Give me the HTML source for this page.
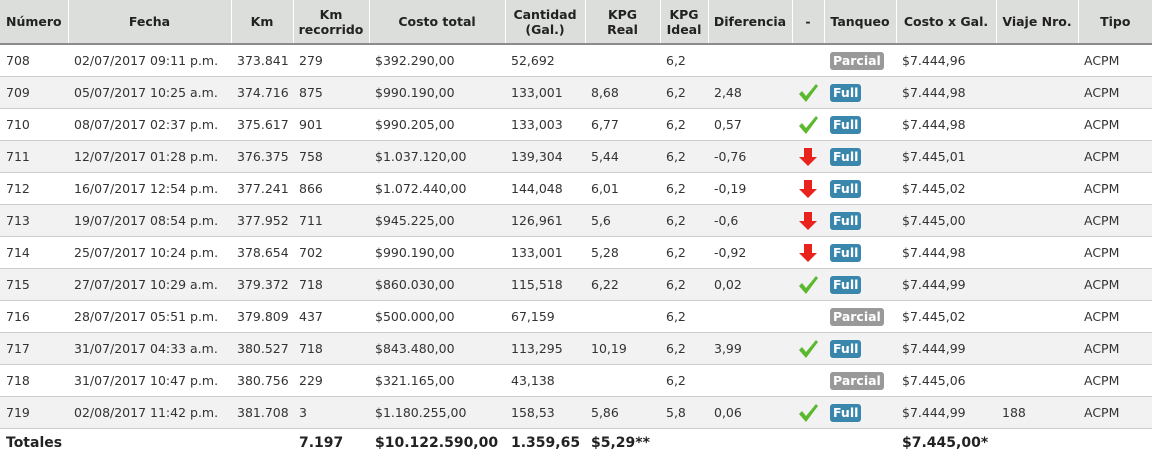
<!DOCTYPE html>
<html><head><meta charset="utf-8"><style>
body{margin:0;width:1152px;height:457px;overflow:hidden;background:#fff;font-family:"DejaVu Sans",Verdana,sans-serif;font-size:12.5px;color:#333}
table{border-collapse:collapse;table-layout:fixed;width:1152px}
th{background:#dcdedb;font-weight:bold;height:43px;padding:0 4px;border-left:1px solid #fff;border-bottom:2px solid #8c8c8c;text-align:center;line-height:15px;color:#222}
th:first-child{border-left:none;text-align:left;padding-left:6px}
td{height:31px;padding:0 0 0 6px;border-bottom:1px solid #ccc;white-space:nowrap;overflow:hidden}
tr.a td{background:#f2f2f2}
tr.t td{border-bottom:none;font-weight:bold;font-size:14px;height:28px;color:#222}
.b{display:inline-block;color:#fff;font-weight:bold;font-size:12.5px;padding:1px 3px;border-radius:3px;line-height:16px}
.p{background:#999}.f{background:#3a87ad}
.ar{display:inline-block;width:20px;height:20px;vertical-align:middle}
</style></head><body>
<table>
<colgroup><col style="width:68px"><col style="width:163px"><col style="width:62px"><col style="width:76px"><col style="width:136px"><col style="width:80px"><col style="width:75px"><col style="width:48px"><col style="width:84px"><col style="width:32px"><col style="width:72px"><col style="width:100px"><col style="width:82px"><col style="width:74px"></colgroup>
<tr><th>Número</th><th>Fecha</th><th>Km</th><th>Km<br>recorrido</th><th>Costo total</th><th>Cantidad<br>(Gal.)</th><th>KPG<br>Real</th><th>KPG<br>Ideal</th><th>Diferencia</th><th>-</th><th>Tanqueo</th><th>Costo x Gal.</th><th>Viaje Nro.</th><th>Tipo</th></tr>
<tr><td>708</td><td>02/07/2017 09:11 p.m.</td><td>373.841</td><td>279</td><td>$392.290,00</td><td>52,692</td><td></td><td>6,2</td><td></td><td></td><td><span class="b p">Parcial</span></td><td>$7.444,96</td><td></td><td>ACPM</td></tr>
<tr class="a"><td>709</td><td>05/07/2017 10:25 a.m.</td><td>374.716</td><td>875</td><td>$990.190,00</td><td>133,001</td><td>8,68</td><td>6,2</td><td>2,48</td><td><svg class="ar" viewBox="0 0 20 20"><path d="M1 11l3-3 4 5L18 1l2 2L8 19z" fill="#5cb82e"/></svg></td><td><span class="b f">Full</span></td><td>$7.444,98</td><td></td><td>ACPM</td></tr>
<tr><td>710</td><td>08/07/2017 02:37 p.m.</td><td>375.617</td><td>901</td><td>$990.205,00</td><td>133,003</td><td>6,77</td><td>6,2</td><td>0,57</td><td><svg class="ar" viewBox="0 0 20 20"><path d="M1 11l3-3 4 5L18 1l2 2L8 19z" fill="#5cb82e"/></svg></td><td><span class="b f">Full</span></td><td>$7.444,98</td><td></td><td>ACPM</td></tr>
<tr class="a"><td>711</td><td>12/07/2017 01:28 p.m.</td><td>376.375</td><td>758</td><td>$1.037.120,00</td><td>139,304</td><td>5,44</td><td>6,2</td><td>-0,76</td><td><svg class="ar" viewBox="0 0 20 20"><path d="M6 1h8v9h5l-9 9-9-9h5z" fill="#e8231c"/></svg></td><td><span class="b f">Full</span></td><td>$7.445,01</td><td></td><td>ACPM</td></tr>
<tr><td>712</td><td>16/07/2017 12:54 p.m.</td><td>377.241</td><td>866</td><td>$1.072.440,00</td><td>144,048</td><td>6,01</td><td>6,2</td><td>-0,19</td><td><svg class="ar" viewBox="0 0 20 20"><path d="M6 1h8v9h5l-9 9-9-9h5z" fill="#e8231c"/></svg></td><td><span class="b f">Full</span></td><td>$7.445,02</td><td></td><td>ACPM</td></tr>
<tr class="a"><td>713</td><td>19/07/2017 08:54 p.m.</td><td>377.952</td><td>711</td><td>$945.225,00</td><td>126,961</td><td>5,6</td><td>6,2</td><td>-0,6</td><td><svg class="ar" viewBox="0 0 20 20"><path d="M6 1h8v9h5l-9 9-9-9h5z" fill="#e8231c"/></svg></td><td><span class="b f">Full</span></td><td>$7.445,00</td><td></td><td>ACPM</td></tr>
<tr><td>714</td><td>25/07/2017 10:24 p.m.</td><td>378.654</td><td>702</td><td>$990.190,00</td><td>133,001</td><td>5,28</td><td>6,2</td><td>-0,92</td><td><svg class="ar" viewBox="0 0 20 20"><path d="M6 1h8v9h5l-9 9-9-9h5z" fill="#e8231c"/></svg></td><td><span class="b f">Full</span></td><td>$7.444,98</td><td></td><td>ACPM</td></tr>
<tr class="a"><td>715</td><td>27/07/2017 10:29 a.m.</td><td>379.372</td><td>718</td><td>$860.030,00</td><td>115,518</td><td>6,22</td><td>6,2</td><td>0,02</td><td><svg class="ar" viewBox="0 0 20 20"><path d="M1 11l3-3 4 5L18 1l2 2L8 19z" fill="#5cb82e"/></svg></td><td><span class="b f">Full</span></td><td>$7.444,99</td><td></td><td>ACPM</td></tr>
<tr><td>716</td><td>28/07/2017 05:51 p.m.</td><td>379.809</td><td>437</td><td>$500.000,00</td><td>67,159</td><td></td><td>6,2</td><td></td><td></td><td><span class="b p">Parcial</span></td><td>$7.445,02</td><td></td><td>ACPM</td></tr>
<tr class="a"><td>717</td><td>31/07/2017 04:33 a.m.</td><td>380.527</td><td>718</td><td>$843.480,00</td><td>113,295</td><td>10,19</td><td>6,2</td><td>3,99</td><td><svg class="ar" viewBox="0 0 20 20"><path d="M1 11l3-3 4 5L18 1l2 2L8 19z" fill="#5cb82e"/></svg></td><td><span class="b f">Full</span></td><td>$7.444,99</td><td></td><td>ACPM</td></tr>
<tr><td>718</td><td>31/07/2017 10:47 p.m.</td><td>380.756</td><td>229</td><td>$321.165,00</td><td>43,138</td><td></td><td>6,2</td><td></td><td></td><td><span class="b p">Parcial</span></td><td>$7.445,06</td><td></td><td>ACPM</td></tr>
<tr class="a"><td>719</td><td>02/08/2017 11:42 p.m.</td><td>381.708</td><td>3</td><td>$1.180.255,00</td><td>158,53</td><td>5,86</td><td>5,8</td><td>0,06</td><td><svg class="ar" viewBox="0 0 20 20"><path d="M1 11l3-3 4 5L18 1l2 2L8 19z" fill="#5cb82e"/></svg></td><td><span class="b f">Full</span></td><td>$7.444,99</td><td>188</td><td>ACPM</td></tr>
<tr class="t"><td colspan="3">Totales</td><td>7.197</td><td>$10.122.590,00</td><td>1.359,65</td><td>$5,29**</td><td></td><td></td><td></td><td></td><td>$7.445,00*</td><td></td><td></td></tr>
</table>
</body></html>
